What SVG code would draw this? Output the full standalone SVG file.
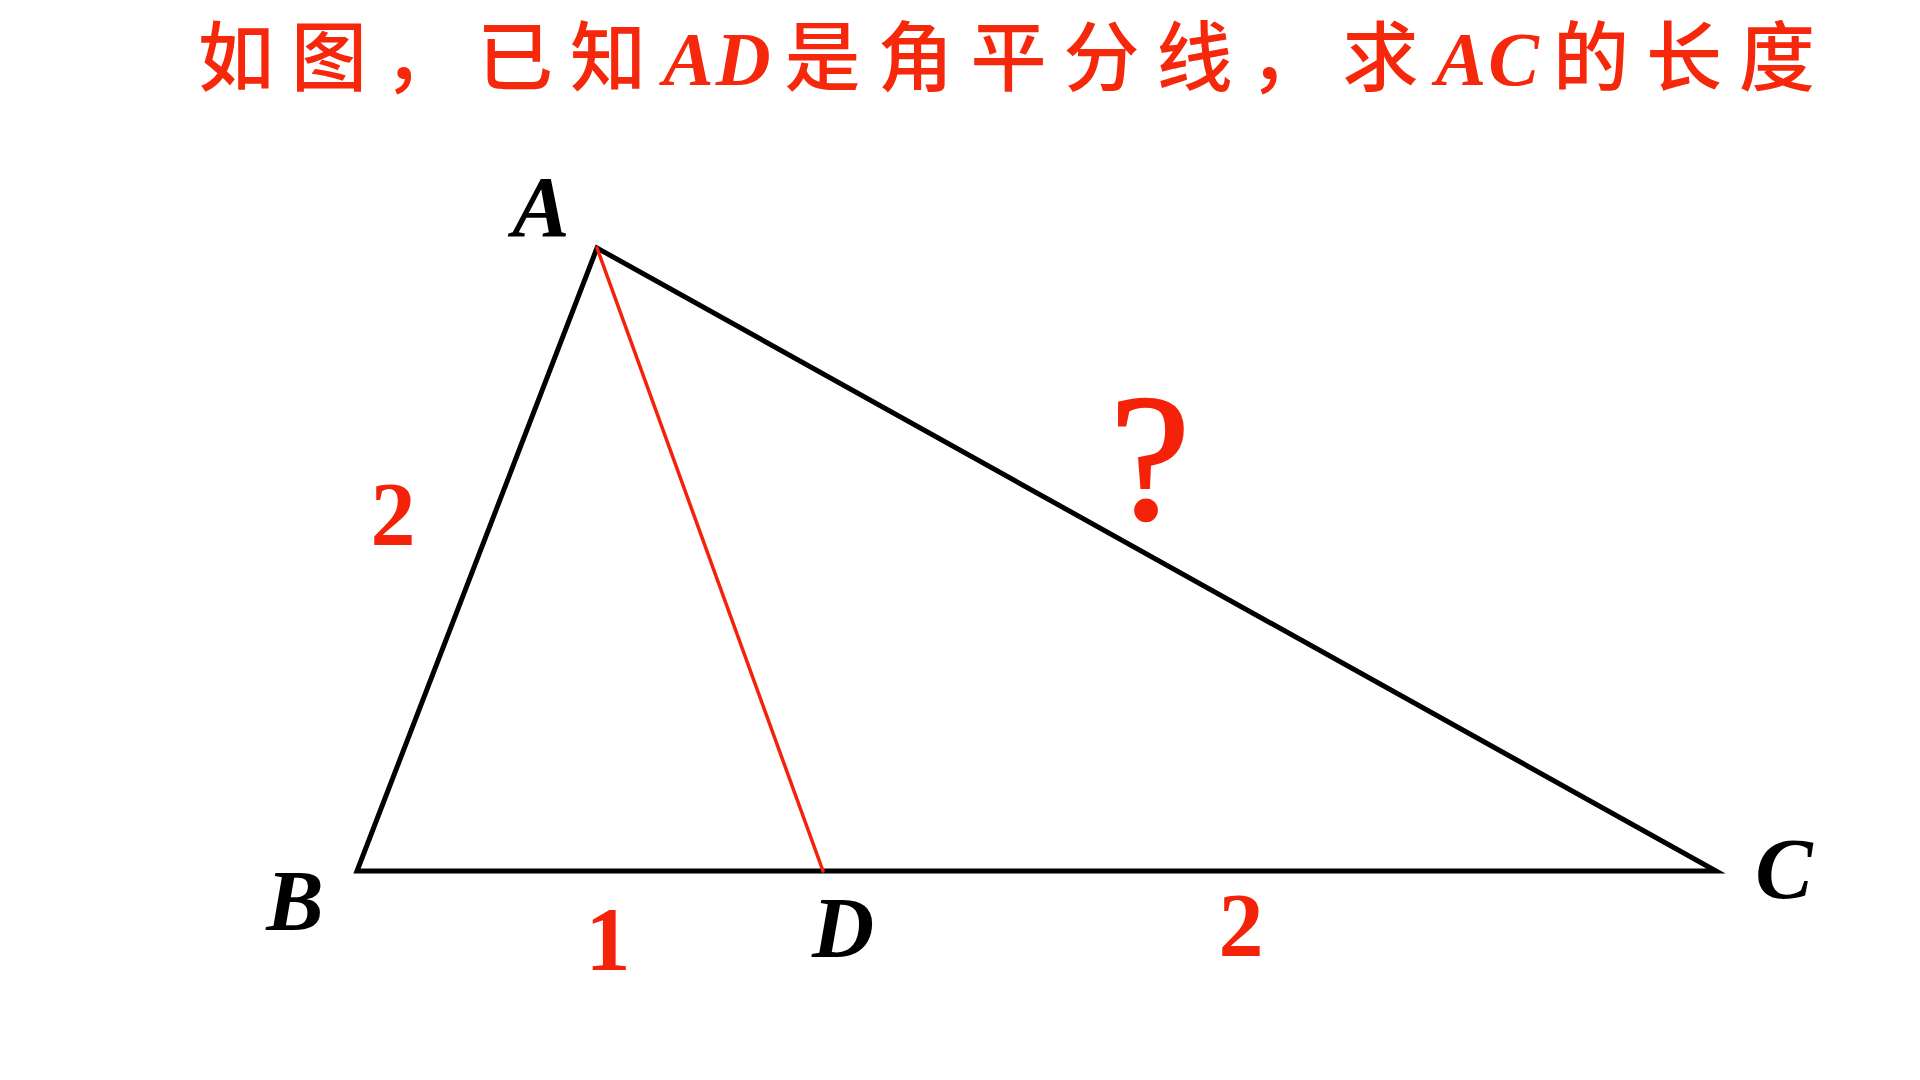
<svg xmlns="http://www.w3.org/2000/svg" width="1920" height="1080" viewBox="0 0 1920 1080">
  <style>
    .title { font-family: "Noto Sans CJK SC", "Noto Sans", sans-serif; font-size: 76px; font-weight: 500; fill: #f5280c; letter-spacing: 17px; }
    .lat { font-family: "Liberation Serif", "Noto Sans CJK SC", serif; font-weight: bold; font-style: italic; font-size: 76px; letter-spacing: 2px; }
    .vertex { font-family: "Liberation Serif", serif; font-weight: bold; font-style: italic; font-size: 86px; fill: #000; text-anchor: middle; }
    .num { font-family: "Liberation Serif", serif; font-weight: bold; font-size: 90px; fill: #f5220a; text-anchor: middle; }
    .qmark { font-size: 180px; font-weight: normal; stroke: #f5220a; stroke-width: 2.5; }
    .side { fill: none; stroke: #000; stroke-width: 5; stroke-linejoin: miter; stroke-miterlimit: 20; }
    .bisector { stroke: #f5220a; stroke-width: 3.5; stroke-linecap: round; }
  </style>
  <rect x="0" y="0" width="1920" height="1080" fill="#ffffff"/>
  <text id="title" class="title" x="198" y="85">如图，已知<tspan class="lat">AD</tspan><tspan dx="12">是角平分线，求</tspan><tspan class="lat">AC</tspan><tspan dx="12">的长度</tspan></text>
  <g id="connectors">
    <polygon id="triangle-ABC" class="side" points="597,248 357,871 1716,871"/>
    <line id="bisector-AD" class="bisector" x1="597" y1="248" x2="823" y2="871"/>
  </g>
  <g id="node-A"><text class="vertex" x="541" y="236">A</text></g>
  <g id="node-B"><text class="vertex" x="295" y="930">B</text></g>
  <g id="node-C"><text class="vertex" x="1784" y="898">C</text></g>
  <g id="node-D"><text class="vertex" x="843" y="957">D</text></g>
  <g id="label-AB"><text class="num" x="393" y="545">2</text></g>
  <g id="label-BD"><text class="num" x="608" y="970">1</text></g>
  <g id="label-DC"><text class="num" x="1241" y="956">2</text></g>
  <g id="label-AC"><text class="num qmark" x="1150" y="518">?</text></g>
</svg>
